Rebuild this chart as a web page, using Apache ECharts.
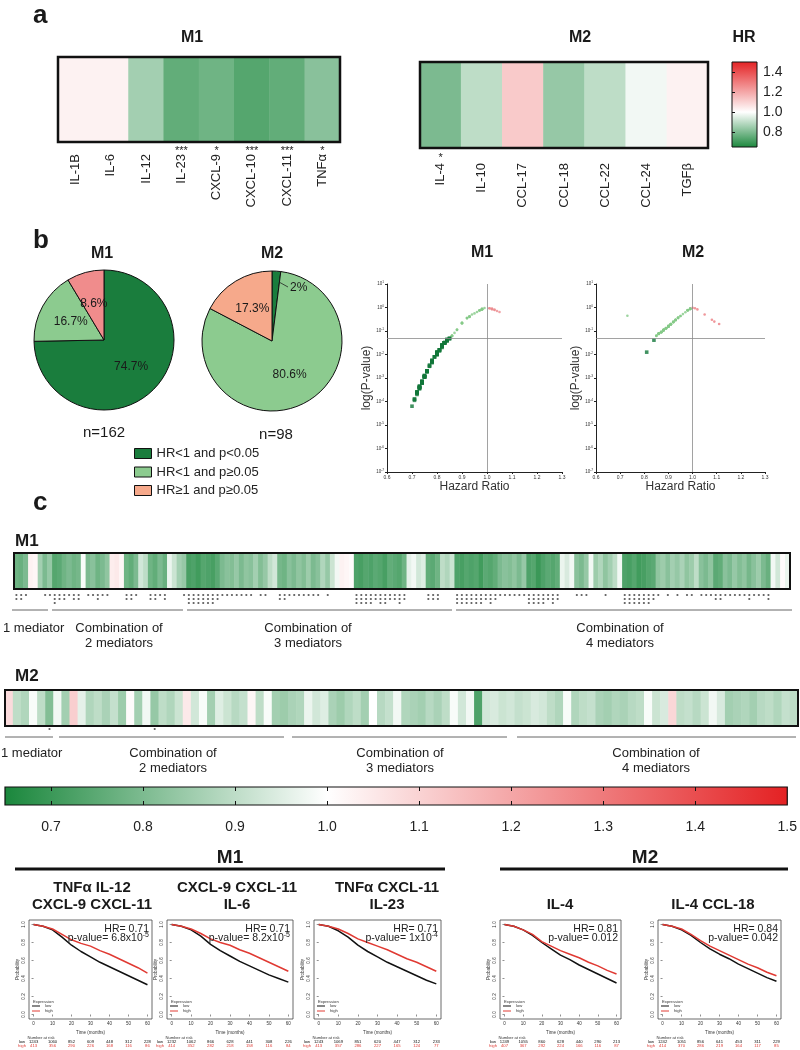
<!DOCTYPE html>
<html><head><meta charset="utf-8">
<script src="https://cdn.jsdelivr.net/npm/echarts@6/dist/echarts.min.js"></script>
<style>html,body{margin:0;padding:0;background:#fff}#c{width:800px;height:1050px}</style>
</head><body><div id="c"></div>
<script>
// ===================== DATA =====================
// Panel a
const aM1Labels = ['IL-1B','IL-6','IL-12','IL-23','CXCL-9','CXCL-10','CXCL-11','TNFα'];
const aM1HR     = [1.03, 1.03, 0.86, 0.76, 0.78, 0.74, 0.76, 0.82];
const aM1Stars  = ['', '', '', '***', '*', '***', '***', '*'];
const aM2Labels = ['IL-4','IL-10','CCL-17','CCL-18','CCL-22','CCL-24','TGFβ'];
const aM2HR     = [0.80, 0.90, 1.12, 0.84, 0.90, 0.98, 1.03];
const aM2Stars  = ['*', '', '', '', '', '', ''];
const hrBarTicks = [0.8, 1.0, 1.2, 1.4];

// Panel b pies
const pieNames = ['HR<1 and p<0.05', 'HR<1 and p≥0.05', 'HR≥1 and p≥0.05'];
const pieM1 = [74.7, 16.7, 8.6];
const pieM2 = [2, 80.6, 17.3];
const nM1 = 162, nM2 = 98;

// Panel c : HR and log10(p) of every mediator combination
const hrM1 = [
 0.78,0.77,0.80,1.03,1.02,0.86,0.80,0.84,0.74,0.75,
 0.78,0.80,0.78,0.79,0.99,0.80,0.82,0.78,0.80,0.83,
 1.04,1.05,1.02,0.78,0.76,0.80,0.93,0.90,0.78,0.76,
 0.80,0.77,0.97,0.92,0.86,0.84,0.72,0.73,0.71,0.74,
 0.73,0.72,0.75,0.80,0.82,0.81,0.84,0.80,0.83,0.82,
 0.86,0.81,0.84,0.90,0.93,0.79,0.78,0.82,0.80,0.83,
 0.81,0.85,0.80,0.82,0.88,0.84,0.92,0.98,1.03,1.02,
 1.01,0.73,0.72,0.74,0.73,0.75,0.74,0.72,0.76,0.75,
 0.74,0.78,0.96,0.98,0.93,0.95,0.76,0.75,0.78,0.90,
 0.88,0.92,0.73,0.72,0.74,0.73,0.74,0.71,0.75,0.74,
 0.76,0.80,0.82,0.81,0.83,0.80,0.84,0.73,0.74,0.70,
 0.73,0.75,0.74,0.76,0.97,0.94,0.98,0.82,0.80,0.84,
 0.98,0.85,0.88,0.83,0.86,0.90,0.98,0.73,0.72,0.74,
 0.71,0.72,0.74,0.75,0.83,0.85,0.82,0.86,0.84,0.87,
 0.83,0.85,0.90,0.82,0.80,0.83,0.75,0.76,0.82,0.80,
 0.84,0.81,0.83,0.79,0.82,0.85,0.80,0.77,0.98,0.93,
 1.01,0.97];
const logpM1 = [
 -2.30,-2.45,-1.95,-0.10,-0.06,-1.22,-2.00,-1.40,-3.20,-2.90,
 -2.30,-1.90,-2.35,-2.10,-0.02,-1.95,-1.60,-2.30,-2.00,-1.50,
 -0.15,-0.19,-0.07,-2.25,-2.70,-1.95,-0.38,-0.68,-2.30,-2.75,
 -1.90,-2.50,-0.12,-0.45,-1.20,-1.40,-3.60,-3.40,-3.90,-3.15,
 -3.45,-3.65,-2.95,-1.95,-1.65,-1.80,-1.40,-2.00,-1.50,-1.70,
 -1.20,-1.85,-1.35,-0.65,-0.40,-2.10,-2.30,-1.65,-1.95,-1.50,
 -1.80,-1.32,-1.95,-1.60,-0.95,-1.40,-0.45,-0.07,-0.10,-0.06,
 -0.03,-3.40,-3.60,-3.20,-3.35,-2.95,-3.15,-3.70,-2.70,-2.90,
 -3.20,-2.30,-0.19,-0.08,-0.38,-0.25,-2.70,-2.90,-2.25,-0.65,
 -0.95,-0.45,-3.40,-3.60,-3.20,-3.45,-3.15,-3.95,-2.95,-3.20,
 -2.70,-1.95,-1.65,-1.80,-1.50,-1.90,-1.40,-3.40,-3.20,-4.20,
 -3.35,-2.95,-3.15,-2.70,-0.13,-0.30,-0.07,-1.60,-1.95,-1.40,
 -0.06,-1.30,-0.95,-1.50,-1.20,-0.67,-0.08,-3.40,-3.60,-3.20,
 -3.90,-3.65,-3.15,-2.95,-1.50,-1.30,-1.65,-1.20,-1.40,-1.08,
 -1.50,-1.32,-0.66,-1.60,-1.95,-1.50,-2.95,-2.70,-1.65,-1.95,
 -1.40,-1.80,-1.50,-2.10,-1.65,-1.32,-1.95,-2.50,-0.07,-0.38,
 -0.03,-0.13];
const hrM2 = [
 1.08,0.90,0.88,0.99,0.90,0.81,0.98,0.86,1.11,0.96,
 0.88,0.90,0.87,0.91,0.85,1.01,0.86,0.98,0.84,0.90,
 0.88,0.92,1.05,0.93,0.99,0.86,0.95,0.92,0.89,0.91,
 1.02,0.90,0.99,0.86,0.85,0.87,0.88,0.97,0.93,0.95,
 0.87,0.85,0.88,0.90,0.86,1.00,0.89,0.91,0.98,0.88,
 0.87,0.86,0.89,0.87,0.90,0.99,0.93,0.98,0.73,0.93,
 0.94,0.92,0.93,0.91,0.92,0.94,0.93,0.90,0.88,0.99,
 0.88,0.90,0.91,0.87,0.86,0.88,0.87,0.89,0.90,0.99,
 0.92,0.94,1.09,0.90,0.91,0.89,0.92,0.98,0.94,0.86,
 0.87,0.88,0.86,0.89,0.90,0.88,0.91,0.90];
const logpM2 = [
 -0.52,-0.80,-0.97,-0.06,-0.78,-1.90,-0.12,-1.12,-0.70,-0.28,
 -0.95,-0.81,-1.04,-0.71,-1.20,-0.03,-1.10,-0.12,-1.39,-0.79,
 -0.97,-0.62,-0.30,-0.53,-0.05,-1.13,-0.36,-0.61,-0.88,-0.72,
 -0.08,-0.80,-0.06,-1.12,-1.21,-1.04,-0.96,-0.20,-0.52,-0.36,
 -1.05,-1.19,-0.95,-0.81,-1.11,-0.01,-0.87,-0.70,-0.12,-0.97,
 -1.03,-1.12,-0.89,-1.05,-0.79,-0.06,-0.53,-0.11,-0.35,-0.54,
 -0.44,-0.63,-0.52,-0.72,-0.61,-0.45,-0.53,-0.80,-0.96,-0.05,
 -0.96,-0.81,-0.70,-1.04,-1.13,-0.95,-1.05,-0.88,-0.79,-0.06,
 -0.62,-0.43,-0.60,-0.80,-0.71,-0.89,-0.62,-0.12,-0.44,-1.12,
 -1.04,-0.97,-1.11,-0.87,-0.80,-0.96,-0.70,-0.81];
const groupLabels = ['1 mediator', 'Combination of\n2 mediators', 'Combination of\n3 mediators', 'Combination of\n4 mediators'];
const cBarTicks = [0.7, 0.8, 0.9, 1.0, 1.1, 1.2, 1.3, 1.4];
const cBarLabels = [0.7, 0.8, 0.9, 1.0, 1.1, 1.2, 1.3, 1.4, 1.5];

// Kaplan-Meier panels
const kmTimes = [0, 5, 10, 15, 20, 25, 30, 35, 40, 45, 50, 55, 60];
const kmTitles = ['TNFα IL-12\nCXCL-9 CXCL-11', 'CXCL-9 CXCL-11\nIL-6', 'TNFα CXCL-11\nIL-23', 'IL-4', 'IL-4 CCL-18'];
const kmHR = ['0.71', '0.71', '0.71', '0.81', '0.84'];
const kmP = ['6.8x10{s|-5}', '8.2x10{s|-5}', '1x10{s|-4}', '0.012', '0.042'];
const km1Low  = [1.00,0.98,0.94,0.86,0.77,0.70,0.64,0.58,0.53,0.48,0.43,0.38,0.33];
const km1High = [1.00,0.98,0.95,0.89,0.83,0.79,0.76,0.71,0.67,0.62,0.57,0.52,0.46];
const km2Low  = [1.00,0.98,0.94,0.87,0.78,0.71,0.65,0.59,0.54,0.49,0.44,0.40,0.36];
const km2High = [1.00,0.98,0.95,0.90,0.84,0.80,0.77,0.72,0.68,0.63,0.58,0.53,0.48];
const km3Low  = [1.00,0.98,0.93,0.86,0.77,0.70,0.64,0.58,0.53,0.48,0.43,0.38,0.34];
const km3High = [1.00,0.98,0.95,0.90,0.84,0.80,0.76,0.72,0.67,0.62,0.58,0.53,0.48];
const km4Low  = [1.00,0.98,0.94,0.88,0.80,0.73,0.66,0.61,0.55,0.50,0.45,0.40,0.35];
const km4High = [1.00,0.98,0.94,0.89,0.81,0.76,0.71,0.67,0.63,0.58,0.54,0.49,0.45];
const km5Low  = [1.00,0.98,0.94,0.88,0.80,0.73,0.67,0.62,0.56,0.51,0.46,0.41,0.37];
const km5High = [1.00,0.98,0.95,0.89,0.82,0.76,0.71,0.66,0.61,0.56,0.52,0.47,0.43];
const riskTimes = [0, 10, 20, 30, 40, 50, 60];
const risk1Low = [1243,1060,852,609,448,312,228], risk1High = [413,356,290,226,168,116,86];
const risk2Low = [1232,1062,866,628,441,308,226], risk2High = [414,352,282,218,158,116,84];
const risk3Low = [1243,1069,851,620,447,312,233], risk3High = [413,357,286,227,165,124,77];
const risk4Low = [1249,1055,860,628,440,290,213], risk4High = [407,367,292,224,166,116,87];
const risk5Low = [1242,1051,856,641,453,311,229], risk5High = [414,370,286,219,164,117,85];

// ===================== STYLE / BUILD =====================
const FONT = "'Liberation Sans', Arial, Helvetica, sans-serif";
const HR_MIN = 0.65, HR_MAX = 1.5;
const GREEN = [26,135,60], WHITE = [255,255,255], RED = [228,33,35];
function mix(a, b, t) { return 'rgb(' + a.map((c, i) => Math.round(c + (b[i] - c) * t)).join(',') + ')'; }
function hrColor(v) {
  if (v <= 1) return mix(WHITE, GREEN, Math.min(1, (1 - v) / (1 - HR_MIN)));
  return mix(WHITE, RED, Math.min(1, (v - 1) / (HR_MAX - 1)));
}
const rampColors = [];
for (let i = 0; i <= 85; i++) rampColors.push(hrColor(HR_MIN + i * (HR_MAX - HR_MIN) / 85));
const whitePos = (1 - HR_MIN) / (HR_MAX - HR_MIN);
function grad(horizontal) {
  return { type: 'linear', x: 0, y: horizontal ? 0 : 1, x2: horizontal ? 1 : 0, y2: 0,
    colorStops: [{offset: 0, color: mix(GREEN, GREEN, 0)}, {offset: whitePos, color: '#ffffff'}, {offset: 1, color: mix(RED, RED, 0)}] };
}
const SIG = Math.log10(0.05);
function starCount(lp) { return lp < -3 ? 3 : lp < -2 ? 2 : lp < SIG ? 1 : 0; }

const grid = [], xAxis = [], yAxis = [], series = [], graphic = [], legend = [];
const heatIdx = [];
const addG = g => (grid.push(g), grid.length - 1);
const addX = a => (xAxis.push(a), xAxis.length - 1);
const addY = a => (yAxis.push(a), yAxis.length - 1);
function T(x, y, text, fs, o) {
  const st = Object.assign({ text, fontSize: fs, fontFamily: FONT, fill: '#1a1a1a',
    align: 'center', textAlign: 'center', verticalAlign: 'middle', textVerticalAlign: 'middle' }, o || {});
  if (st.align) st.textAlign = st.align;
  graphic.push({ type: 'text', x, y, silent: true, z: 50, style: st });
}
function L(x1, y1, x2, y2, w, c) {
  graphic.push({ type: 'line', silent: true, z: 50, shape: { x1, y1, x2, y2 }, style: { stroke: c || '#555', lineWidth: w || 1 } });
}
const hidden = { show: false };

// ---------- Panel a ----------
T(33, 16, 'a', 26, { fontWeight: 'bold', align: 'left' });
T(192, 38, 'M1', 16, { fontWeight: 'bold' });
T(580, 38, 'M2', 16, { fontWeight: 'bold' });
T(744, 38, 'HR', 16, { fontWeight: 'bold' });

function smallHeat(left, top, width, height, labels, vals, stars, labMargin, starMargin) {
  const g = addG({ left, top, width, height, show: true, borderColor: '#111', borderWidth: 2.5, z: 5, backgroundColor: 'transparent' });
  const xa = addX({ gridIndex: g, type: 'category', data: labels, axisLine: hidden, axisTick: hidden,
    axisLabel: { rotate: 90, margin: labMargin, fontSize: 13, color: '#222', fontFamily: FONT, interval: 0 } });
  addX({ gridIndex: g, type: 'category', data: stars, position: 'bottom', axisLine: hidden, axisTick: hidden,
    axisLabel: { margin: starMargin, fontSize: 11, color: '#222', fontFamily: FONT, interval: 0 } });
  const ya = addY({ gridIndex: g, type: 'category', data: ['r'], show: false });
  heatIdx.push(series.length);
  series.push({ type: 'heatmap', xAxisIndex: xa, yAxisIndex: ya, data: vals.map((v, i) => [i, 0, v]), silent: true });
}
smallHeat(58, 57, 282, 85, aM1Labels, aM1HR, aM1Stars, 12, 3);
smallHeat(420, 62, 288, 86, aM2Labels, aM2HR, aM2Stars, 15, 4);

// HR colour bar (panel a)
{
  const g = addG({ left: 732, top: 62, width: 25, height: 85, show: true, borderColor: '#111', borderWidth: 1, backgroundColor: grad(false) });
  addX({ gridIndex: g, type: 'value', min: 0, max: 1, show: false });
  addY({ gridIndex: g, type: 'value', min: HR_MIN, max: HR_MAX, position: 'right', axisLine: hidden, splitLine: hidden,
    axisTick: { customValues: hrBarTicks, length: 3, lineStyle: { color: '#111' } },
    axisLabel: { customValues: hrBarTicks, formatter: v => v.toFixed(1), fontSize: 14, margin: 6, color: '#222', fontFamily: FONT } });
}

// ---------- Panel b : pies ----------
T(33, 241, 'b', 26, { fontWeight: 'bold', align: 'left' });
T(102, 254, 'M1', 16, { fontWeight: 'bold' });
T(272, 254, 'M2', 16, { fontWeight: 'bold' });
const pieCol1 = ['#1a7d3d', '#8ccb8f', '#f08c8c'];
const pieCol2 = ['#1a7d3d', '#8ccb8f', '#f6a98b'];
function pie(center, vals, cols, hideSmall) {
  series.push({ type: 'pie', center, radius: 70, startAngle: 90, clockwise: true, silent: true,
    itemStyle: { borderColor: '#111', borderWidth: 1 },
    label: { position: 'inside', formatter: '{c}%', fontSize: 12, color: '#1a1a1a', fontFamily: FONT },
    labelLine: hidden,
    data: vals.map((v, i) => ({ name: pieNames[i], value: v, itemStyle: { color: cols[i] },
      label: (hideSmall && v < 5) ? { show: false } : undefined })) });
}
pie([104, 340], pieM1, pieCol1, false);
pie([272, 341], pieM2, pieCol2, true);
T(290, 288, pieM2[0] + '%', 12, { align: 'left' });
L(279, 282, 288, 287, 0.8, '#222');
T(104, 433, 'n=' + nM1, 15);
T(276, 435, 'n=' + nM2, 15);
legend.push({ orient: 'vertical', left: 129, top: 442, itemWidth: 17, itemHeight: 10, itemGap: 5.5, selectedMode: false,
  textStyle: { fontSize: 13, color: '#222', fontFamily: FONT },
  data: pieNames.map((n, i) => ({ name: n, icon: 'rect', itemStyle: { color: pieCol2[i], borderColor: '#111', borderWidth: 1 } })) });

// ---------- Panel b : volcano-like scatters ----------
T(482, 253, 'M1', 16, { fontWeight: 'bold' });
T(693, 253, 'M2', 16, { fontWeight: 'bold' });
function scatterPanel(left, width, hr, lp, pinkCol) {
  const g = addG({ left, top: 284, width, height: 188 });
  const xa = addX({ gridIndex: g, type: 'value', min: 0.6, max: 1.3, interval: 0.1, splitLine: hidden,
    axisLine: { lineStyle: { color: '#222', width: 1 } }, axisTick: { length: 2, lineStyle: { color: '#222' } },
    axisLabel: { fontSize: 5, margin: 3, color: '#333', formatter: v => v.toFixed(1) },
    name: 'Hazard Ratio', nameLocation: 'middle', nameGap: 9, nameTextStyle: { fontSize: 12, color: '#333', fontFamily: FONT, verticalAlign: 'top' } });
  const ya = addY({ gridIndex: g, type: 'log', logBase: 10, min: 1e-7, max: 10, splitNumber: 8, splitLine: hidden,
    axisLine: { lineStyle: { color: '#222', width: 1 } }, axisTick: { length: 2, lineStyle: { color: '#222' } },
    axisLabel: { fontSize: 4.5, margin: 3, color: '#333', formatter: v => '10{s|' + Math.round(Math.log10(v)) + '}',
      rich: { s: { fontSize: 3.2, padding: [0, 0, 3, 0], color: '#333' } } },
    name: 'log(P-value)', nameLocation: 'middle', nameGap: 13, nameTextStyle: { fontSize: 12, color: '#333', fontFamily: FONT } });
  const cat = (h, p) => h >= 1 ? 2 : (p < SIG ? 0 : 1);
  const cols = ['#11773a', '#84c987', pinkCol];
  series.push({ type: 'scatter', xAxisIndex: xa, yAxisIndex: ya, silent: true,
    data: hr.map((h, i) => ({ value: [h, Math.pow(10, lp[i])], symbol: cat(h, lp[i]) === 0 ? 'rect' : 'circle',
      symbolSize: cat(h, lp[i]) === 0 ? 3.6 : 2.6, itemStyle: { color: cols[cat(h, lp[i])] } })),
    markLine: { silent: true, symbol: 'none', label: hidden, animation: false,
      lineStyle: { color: '#8a8a8a', width: 0.8, type: 'solid' }, data: [{ yAxis: 0.05 }, { xAxis: 1.0 }] } });
}
scatterPanel(387, 175, hrM1, logpM1, '#ec8b8f');
scatterPanel(596, 169, hrM2, logpM2, '#ec7d82');

// ---------- Panel c ----------
T(33, 503, 'c', 26, { fontWeight: 'bold', align: 'left' });
T(15, 541, 'M1', 17, { fontWeight: 'bold', align: 'left' });
T(15, 676, 'M2', 17, { fontWeight: 'bold', align: 'left' });
function bigHeat(left, top, width, height, hr, lp, starTop) {
  const g = addG({ left, top, width, height, show: true, borderColor: '#111', borderWidth: 2, z: 5, backgroundColor: 'transparent' });
  const idx = hr.map((_, i) => i);
  const xa = addX({ gridIndex: g, type: 'category', data: idx, show: false });
  const ya = addY({ gridIndex: g, type: 'category', data: ['r'], show: false });
  heatIdx.push(series.length);
  series.push({ type: 'heatmap', xAxisIndex: xa, yAxisIndex: ya, silent: true, data: hr.map((v, i) => [i, 0, v]) });
  const g2 = addG({ left, top: starTop, width, height: 16 });
  const xs = addX({ gridIndex: g2, type: 'category', data: idx, show: false });
  const ys = addY({ gridIndex: g2, type: 'value', min: 0, max: 4, inverse: true, show: false });
  const pts = [];
  lp.forEach((p, i) => { for (let k = 1; k <= starCount(p); k++) pts.push([i, k]); });
  series.push({ type: 'scatter', xAxisIndex: xs, yAxisIndex: ys, silent: true, symbol: 'circle', symbolSize: 2.2,
    itemStyle: { color: '#333' }, data: pts });
}
bigHeat(14, 553, 776, 36, hrM1, logpM1, 591);
bigHeat(5, 690, 793, 36, hrM2, logpM2, 725);

// group brackets
function brackets(y, segs, labels, ty) {
  segs.forEach(s => L(s[0], y, s[1], y, 1, '#666'));
  labels.forEach((lab, i) => {
    const parts = groupLabels[i].split('\n');
    parts.forEach((p, j) => T(lab[0], ty + j * 15, p, 13, { align: lab[1], fill: '#222' }));
  });
}
brackets(610, [[12, 48], [52, 183], [187, 452], [456, 792]], [[3, 'left'], [119, 'center'], [308, 'center'], [620, 'center']], 628);
brackets(737, [[5, 53], [59, 284], [292, 507], [517, 796]], [[1, 'left'], [173, 'center'], [400, 'center'], [656, 'center']], 753);

// colour bar c
{
  const g = addG({ left: 5, top: 787, width: 788, height: 18, show: true, borderColor: '#111', borderWidth: 1.2, backgroundColor: grad(true) });
  addX({ gridIndex: g, type: 'value', min: HR_MIN, max: HR_MAX, axisLine: hidden, splitLine: hidden,
    axisTick: { inside: true, length: 4, customValues: cBarTicks, lineStyle: { color: '#111' } },
    axisLabel: { customValues: cBarLabels, formatter: v => v.toFixed(1), fontSize: 14, margin: 15, color: '#222', fontFamily: FONT } });
  addX({ gridIndex: g, type: 'value', min: HR_MIN, max: HR_MAX, position: 'top', axisLine: hidden, splitLine: hidden,
    axisTick: { inside: true, length: 4, customValues: cBarTicks, lineStyle: { color: '#111' } }, axisLabel: hidden });
  addY({ gridIndex: g, type: 'value', min: 0, max: 1, show: false });
}

// ---------- Kaplan-Meier panels ----------
T(230, 858, 'M1', 19, { fontWeight: 'bold' });
T(645, 858, 'M2', 19, { fontWeight: 'bold' });
L(15, 869, 445, 869, 3, '#111');
L(500, 869, 788, 869, 3, '#111');
const kmLefts = [29, 167, 314, 500, 658], kmWidths = [123, 126, 127, 121, 123];
const kmTitleX = [92, 237, 387, 560, 713];
const kmLow = [km1Low, km2Low, km3Low, km4Low, km5Low], kmHigh = [km1High, km2High, km3High, km4High, km5High];
const riskLow = [risk1Low, risk2Low, risk3Low, risk4Low, risk5Low], riskHigh = [risk1High, risk2High, risk3High, risk4High, risk5High];
const KM_RED = '#e03a33';
const probTicks = [0, 0.2, 0.4, 0.6, 0.8, 1.0];
kmTitles.forEach((t, k) => {
  const lines = t.split('\n');
  if (lines.length === 2) { T(kmTitleX[k], 888, lines[0], 15, { fontWeight: 'bold' }); T(kmTitleX[k], 905, lines[1], 15, { fontWeight: 'bold' }); }
  else T(kmTitleX[k], 905, lines[0], 15, { fontWeight: 'bold' });
  const left = kmLefts[k], width = kmWidths[k];
  const g = addG({ left, top: 920, width, height: 99, show: true, borderColor: '#444', borderWidth: 0.8, backgroundColor: 'transparent' });
  const tickStyle = { length: 2, lineStyle: { color: '#444', width: 0.6 } };
  const xa = addX({ gridIndex: g, type: 'value', min: -2.4, max: 62.4, axisLine: hidden, splitLine: hidden,
    axisTick: Object.assign({ customValues: riskTimes }, tickStyle),
    axisLabel: { customValues: riskTimes, fontSize: 4.5, margin: 2, color: '#333' },
    name: 'Time (months)', nameLocation: 'middle', nameGap: 11, nameTextStyle: { fontSize: 4.5, color: '#333', verticalAlign: 'top' } });
  [[riskLow[k], '#111', 'low', 21], [riskHigh[k], KM_RED, 'high', 25]].forEach(r => {
    addX({ gridIndex: g, type: 'value', min: -2.4, max: 62.4, position: 'bottom', offset: r[3], axisLine: hidden, axisTick: hidden, splitLine: hidden,
      axisLabel: { customValues: riskTimes, formatter: v => String(r[0][Math.round(v / 10)]), fontSize: 4.2, margin: 0, color: r[1], verticalAlign: 'top' },
      name: r[2], nameLocation: 'start', nameGap: 3, nameTextStyle: { fontSize: 4.2, color: r[1], verticalAlign: 'top' } });
  });
  const ya = addY({ gridIndex: g, type: 'value', min: -0.05, max: 1.05, axisLine: hidden, splitLine: hidden,
    axisTick: Object.assign({ customValues: probTicks }, tickStyle),
    axisLabel: { customValues: probTicks, rotate: 90, fontSize: 4.5, margin: 3, color: '#333', formatter: v => v.toFixed(1) },
    name: 'Probability', nameLocation: 'middle', nameGap: 9, nameTextStyle: { fontSize: 4.5, color: '#333' } });
  series.push({ type: 'line', name: 'low', xAxisIndex: xa, yAxisIndex: ya, showSymbol: false, silent: true,
    lineStyle: { color: '#111', width: 1.5 }, itemStyle: { color: '#111' }, data: kmTimes.map((t2, i) => [t2, kmLow[k][i]]) });
  series.push({ type: 'line', name: 'high', xAxisIndex: xa, yAxisIndex: ya, showSymbol: false, silent: true,
    lineStyle: { color: KM_RED, width: 1.5 }, itemStyle: { color: KM_RED }, data: kmTimes.map((t2, i) => [t2, kmHigh[k][i]]) });
  const rx = left + width - 3;
  T(rx, 929, 'HR= ' + kmHR[k], 10.5, { align: 'right', fill: '#222' });
  T(rx, 938, 'p-value= ' + kmP[k], 10.5, { align: 'right', fill: '#222', rich: { s: { fontSize: 7, padding: [0, 0, 5, 0], fill: '#222' } } });
  T(left + 4, 1002, 'Expression', 4.2, { align: 'left', fill: '#333' });
  legend.push({ orient: 'vertical', left: left + 3, top: 1004, itemWidth: 8, itemHeight: 1, itemGap: 1, selectedMode: false, padding: 0,
    textStyle: { fontSize: 4.2, color: '#333' }, data: [{ name: 'low', icon: 'rect' }, { name: 'high', icon: 'rect' }] });
  T(left + 12, 1038, 'Number at risk', 4.2, { fill: '#333' });
});

const option = {
  animation: false,
  backgroundColor: '#ffffff',
  textStyle: { fontFamily: FONT },
  grid, xAxis, yAxis, series, legend, graphic,
  visualMap: [{ type: 'continuous', show: false, min: HR_MIN, max: HR_MAX, seriesIndex: heatIdx, inRange: { color: rampColors } }]
};
const chart = echarts.init(document.getElementById('c'), null, { renderer: 'canvas' });
chart.setOption(option);
</script></body></html>
